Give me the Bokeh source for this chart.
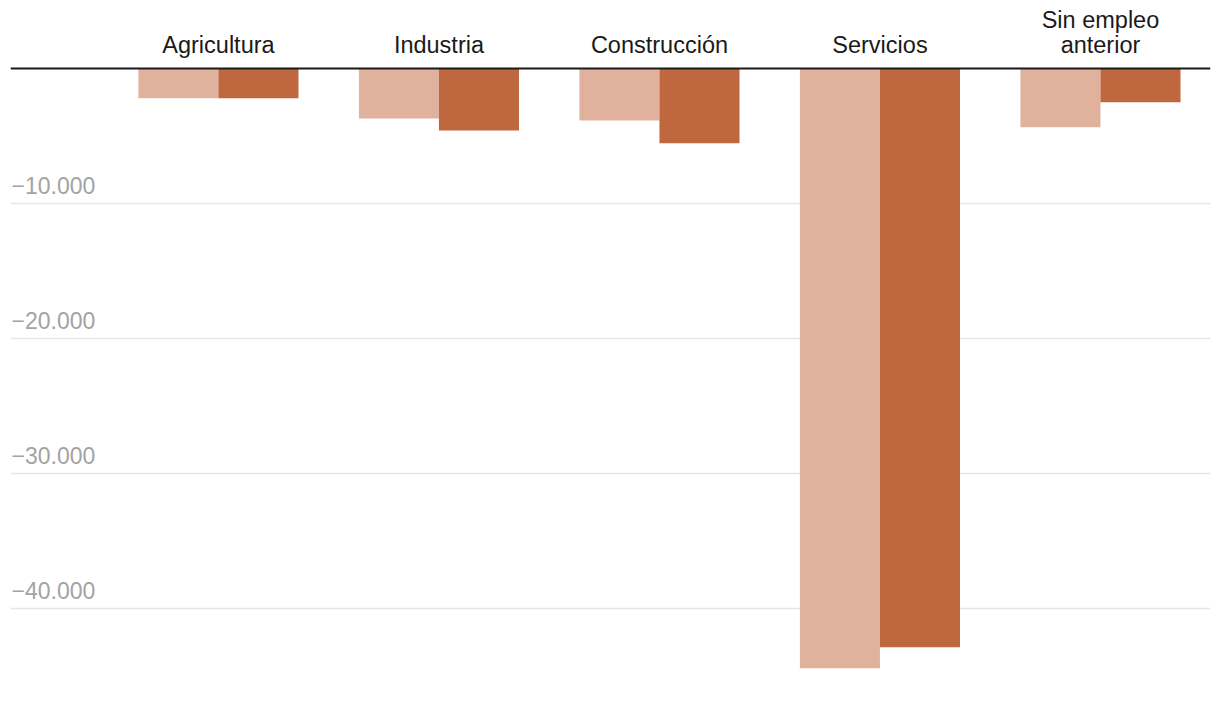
from bokeh.plotting import figure
from bokeh.models import ColumnDataSource, Span, FixedTicker
from bokeh.core.properties import value
from bokeh.embed import file_html
from bokeh.resources import INLINE

# ---- data ----
categories = ["Agricultura", "Industria", "Construcción", "Servicios", "Sin empleo\nanterior"]
serie_a = [-2200, -3700, -3850, -44450, -4350]   # light
serie_b = [-2200, -4600, -5550, -42900, -2500]   # dark
tick_values = [-10000, -20000, -30000, -40000]
tick_labels = ["\u221210.000", "\u221220.000", "\u221230.000", "\u221240.000"]

LIGHT = "#e0b29d"
DARK = "#bf673f"
FONT = "Liberation Sans"

x0, x1 = -0.943, 4.499
y0, y1 = -47442, 4448

p = figure(width=1212, height=708, x_range=(x0, x1), y_range=(y0, y1),
           output_backend="svg", toolbar_location=None,
           x_axis_location=None, y_axis_location=None,
           min_border_left=10, min_border_right=2, min_border_top=8, min_border_bottom=0)
p.outline_line_color = None
p.xgrid.visible = False
p.ygrid.ticker = FixedTicker(ticks=tick_values)
p.ygrid.grid_line_color = "#e6e6e6"
p.ygrid.grid_line_width = 1.5

bw = 0.363
idx = list(range(len(categories)))
src = ColumnDataSource(dict(
    xa=[i - bw / 2 for i in idx], xb=[i + bw / 2 for i in idx],
    a=serie_a, b=serie_b))
p.vbar(x="xa", top=0, bottom="a", width=bw, source=src, fill_color=LIGHT, line_color=None)
p.vbar(x="xb", top=0, bottom="b", width=bw, source=src, fill_color=DARK, line_color=None)

p.add_layout(Span(location=0, dimension="width", line_color="#1a1a1a", line_width=2))

# category labels (above zero line)
lx, ly, lt, loff = [], [], [], []
for i, c in enumerate(categories):
    parts = c.split("\n")
    n = len(parts)
    for k, part in enumerate(parts):
        lx.append(i)
        ly.append(0)
        lt.append(part)
        loff.append(-24 - 24.5 * (n - 1 - k))
p.text(x=lx, y=ly, text=lt, y_offset=loff, text_align="center", text_baseline="alphabetic",
       text_font=value(FONT), text_font_size="23.5px", text_color="#1a1a1a")

# y tick labels inside plot
p.text(x=[x0] * len(tick_values), y=tick_values, text=tick_labels, x_offset=1, y_offset=-18,
       text_align="left", text_baseline="alphabetic",
       text_font=value(FONT), text_font_size="23px", text_color="#a3a3a3")

open("out.html", "w").write(file_html(p, INLINE))
